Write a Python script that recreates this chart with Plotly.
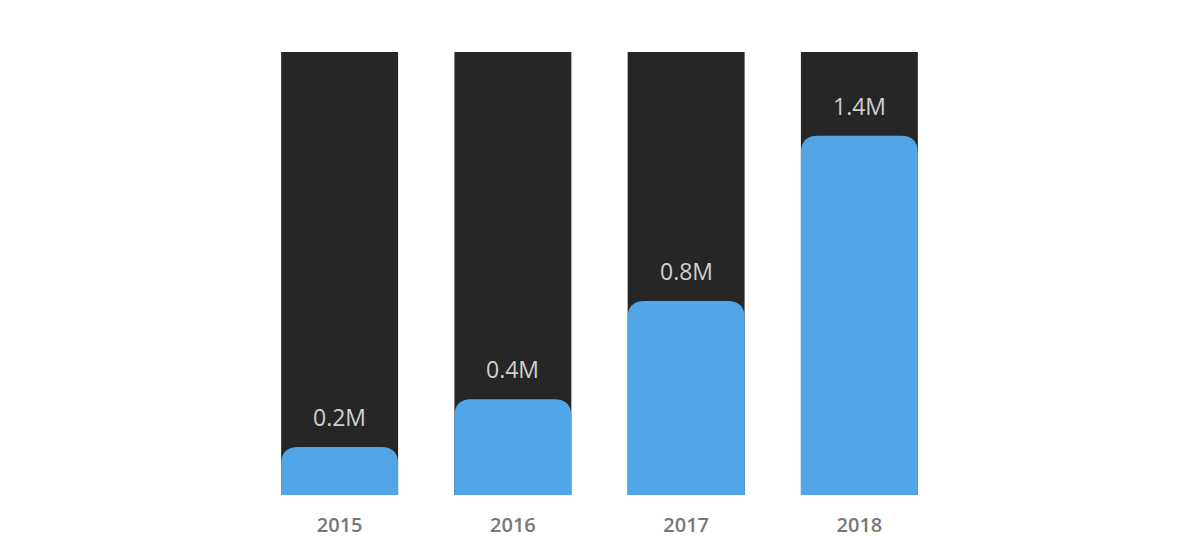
import plotly.graph_objects as go

years = ["2015", "2016", "2017", "2018"]
values = [0.2, 0.4, 0.81, 1.5]
labels = ["0.2M", "0.4M", "0.8M", "1.4M"]
track_max = 1.85

pos = list(range(len(years)))
bw = 0.675

# plot area size in px (for converting the corner radius to data units)
W, H = 1200, 550
M = dict(l=245, r=262, t=44, b=63)
plot_w = W - M["l"] - M["r"]
plot_h = H - M["t"] - M["b"]
radius_px = 17
rx = radius_px * len(years) / plot_w
ry = radius_px * track_max / plot_h

fig = go.Figure()
fig.add_trace(go.Bar(
    x=pos, y=[track_max] * len(years),
    marker=dict(color="#262626", line=dict(width=0)),
    width=bw, hoverinfo="skip", showlegend=False,
))
# invisible bar trace for hover; visible blue bars drawn with rounded tops below
fig.add_trace(go.Bar(
    x=pos, y=values,
    marker=dict(color="#52a5e6", line=dict(width=0), opacity=0),
    width=bw, showlegend=False,
    customdata=labels, hovertemplate="%{customdata}<extra></extra>",
))
for p, v, lab in zip(pos, values, labels):
    x0, x1 = p - bw / 2, p + bw / 2
    path = (f"M {x0},0 L {x0},{v - ry} Q {x0},{v} {x0 + rx},{v} "
            f"L {x1 - rx},{v} Q {x1},{v} {x1},{v - ry} L {x1},0 Z")
    fig.add_shape(type="path", path=path, xref="x", yref="y",
                  fillcolor="#52a5e6", line=dict(width=0), layer="above")
    fig.add_annotation(
        x=p, y=v, text=lab, showarrow=False, yanchor="middle", yshift=30,
        font=dict(family="Open Sans", size=23, color="#cfcfcf"),
    )

fig.update_layout(
    width=W, height=H,
    barmode="overlay",
    plot_bgcolor="white", paper_bgcolor="white",
    margin=M,
    xaxis=dict(
        range=[-0.5, len(years) - 0.5],
        tickmode="array", tickvals=pos, ticktext=years,
        showgrid=False, zeroline=False, showline=False, ticks="",
        tickfont=dict(family="Open Sans", size=20, color="#777777", weight=600),
        ticklabelstandoff=16,
    ),
    yaxis=dict(range=[0, track_max], visible=False, showgrid=False, zeroline=False),
)

fig.write_html("out.html")
